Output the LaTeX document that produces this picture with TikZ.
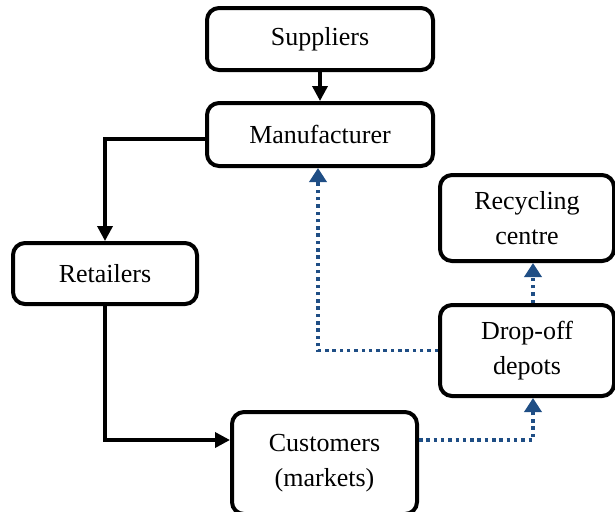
\documentclass[tikz,border=0pt]{standalone}
\usepackage{fontspec}
\setmainfont{Liberation Serif}
\usetikzlibrary{positioning,calc,arrows.meta}
\definecolor{dotblue}{HTML}{1F4E85}

\begin{document}
\begin{tikzpicture}[x=0.5pt,y=-0.5pt,
	box/.style={draw,line width=2pt,rounded corners=6pt,align=center,inner sep=0pt,
		font=\fontsize{13}{17.5}\selectfont},
	flow/.style={-{Triangle[length=7.5pt,width=7.5pt]},line width=1.75pt},
	back/.style={-{Triangle[length=7pt,width=8.5pt]},dotblue,line width=1.75pt,dash pattern=on 1.75pt off 1.9pt}]

\useasboundingbox (0,0) rectangle (615,511);

\node[box,minimum width=113pt,minimum height=31pt] (sup) at (320,39) {Suppliers};
\node[box,minimum width=113pt,minimum height=31.5pt] (man) at (320,134.5) {Manufacturer};
\node[box,minimum width=92pt,minimum height=30.5pt] (ret) at (105,273.5) {Retailers};
\node[box,minimum width=92.5pt,minimum height=51pt] (cus) at (324.5,463) {Customers\\(markets)};
\node[box,minimum width=87pt,minimum height=43pt] (rec) at (527,218) {Recycling\\centre};
\node[box,minimum width=87pt,minimum height=45.5pt] (dro) at (527,350.5) {Drop-off\\depots};

\path[flow]
	(sup) edge (man)
;
\draw[flow] ([yshift=-2.25pt]man.west) -| (ret.north);
\draw[flow] (ret.south) |- ([yshift=11.5pt]cus.west);

\path[back]
	([xshift=3pt]dro.north) edge ([xshift=3pt]rec.south)
;
\draw[back] ([yshift=11.5pt]cus.east) -| ([xshift=3pt]dro.south);
\draw[back] (dro.west) -| ([xshift=-1pt]man.south);

\end{tikzpicture}
\end{document}
